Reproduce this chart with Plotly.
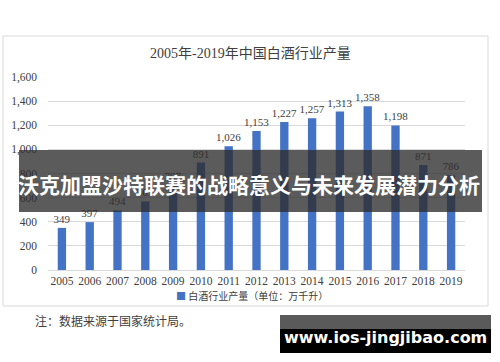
import plotly.graph_objects as go

years = ["2005", "2006", "2007", "2008", "2009", "2010", "2011", "2012",
         "2013", "2014", "2015", "2016", "2017", "2018", "2019"]
output = [349, 397, 494, 569, 707, 891, 1026, 1153, 1227, 1257, 1313, 1358, 1198, 871, 786]
value_labels = ["349", "397", "494", "569", "707", "891", "1,026", "1,153", "1,227",
                "1,257", "1,313", "1,358", "1,198", "871", "786"]
y_ticks = [0, 200, 400, 600, 800, 1000, 1200, 1400, 1600]
y_tick_text = ["0", "200", "400", "600", "800", "1,000", "1,200", "1,400", "1,600"]

title_text = "2005年-2019年中国白酒行业产量"
series_name = "白酒行业产量（单位：万千升）"
note_text = "注：数据来源于国家统计局。"
banner_text = "沃克加盟沙特联赛的战略意义与未来发展潜力分析"
site_text = "www.ios-jingjibao.com"

W, H = 500, 362
L, R, T, B = 48, 35, 77, 92
PW, PH = W - L - R, H - T - B

def px(x):
    return (x - L) / PW

def py(y):
    return (H - B - y) / PH

SERIF = "Liberation Serif, Times New Roman, Noto Sans CJK SC"
CJK = "Noto Sans CJK SC"
BAR_COLOR = "#4472C4"

fig = go.Figure()
fig.add_trace(go.Bar(
    x=years, y=output, name=series_name,
    marker=dict(color=BAR_COLOR, line=dict(width=0)),
    width=0.3,
    text=value_labels, textposition="outside", cliponaxis=False,
    constraintext="none",
    textfont=dict(family=SERIF, size=11, color="#404040"),
    showlegend=False,
))

shapes = [
    dict(type="rect", xref="paper", yref="paper", x0=px(3), x1=px(488), y0=py(306), y1=py(36),
         line=dict(color="#d9d9d9", width=1), fillcolor="rgba(0,0,0,0)", layer="below"),
    dict(type="rect", xref="paper", yref="paper", x0=px(19), x1=px(482), y0=py(212), y1=py(150),
         line=dict(width=0), fillcolor="rgba(45,45,45,0.78)", layer="above"),
    dict(type="rect", xref="paper", yref="paper", x0=px(280), x1=px(491), y0=py(329), y1=py(315),
         line=dict(width=0), fillcolor="#5a5a5a", layer="above"),
    dict(type="rect", xref="paper", yref="paper", x0=px(280), x1=px(491), y0=py(353), y1=py(329),
         line=dict(width=0), fillcolor="#000000", layer="above"),
]

annotations = [
    dict(text=title_text, xref="paper", yref="paper", x=px(250), y=py(53), showarrow=False,
         font=dict(family=SERIF, size=14, color="#404040"), xanchor="center", yanchor="middle"),
    dict(text="<span style='color:%s'>■</span> %s" % (BAR_COLOR, series_name),
         xref="paper", yref="paper", x=px(174), y=py(295), showarrow=False,
         font=dict(family=CJK, size=10, color="#404040"), xanchor="left", yanchor="middle"),
    dict(text=note_text, xref="paper", yref="paper", x=px(33), y=py(320), showarrow=False,
         font=dict(family=CJK, size=12, color="#404040"), xanchor="left", yanchor="middle"),
    dict(text="<b>" + banner_text + "</b>", xref="paper", yref="paper", x=px(249), y=py(184),
         showarrow=False, font=dict(family=CJK, size=21, color="white"),
         xanchor="center", yanchor="middle"),
    dict(text="<b>" + site_text + "</b>", xref="paper", yref="paper", x=px(385), y=py(337),
         showarrow=False, font=dict(family="DejaVu Sans", size=16, color="white"),
         xanchor="center", yanchor="middle"),
]

fig.update_layout(
    width=W, height=H,
    margin=dict(l=L, r=R, t=T, b=B),
    paper_bgcolor="white", plot_bgcolor="white",
    showlegend=False,
    xaxis=dict(type="category", showgrid=False, showline=True, linecolor="#d9d9d9",
               ticks="", tickfont=dict(family=SERIF, size=11.5, color="#404040")),
    yaxis=dict(range=[0, 1600], tickvals=y_ticks, ticktext=y_tick_text,
               showgrid=True, gridcolor="#d9d9d9", gridwidth=1, zeroline=False,
               showline=False, ticks="", ticklabelstandoff=10,
               tickfont=dict(family=SERIF, size=11.5, color="#404040")),
    shapes=shapes, annotations=annotations,
)

fig.write_html("out.html", config={"displayModeBar": False},
               post_script="document.body.style.margin='0';")
